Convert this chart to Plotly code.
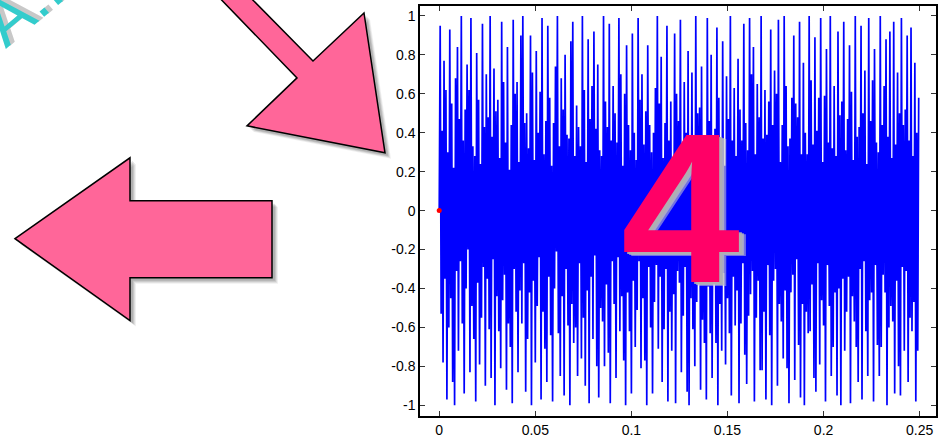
import plotly.graph_objects as go

# ---- data ----
sample_step = 0.0005         # s between samples
signal = [
    0.00, 0.95, -0.53, 0.41, -0.78, 0.77, -0.35, 0.62, -0.97, 0.30, -0.60, 0.93, -0.45, 0.55, -0.88, 0.22, -1.00, 0.68, -0.31, 0.84,
    -0.72, 0.47, -0.26, 1.00, -0.58, 0.36, -0.94, 0.52, -0.40, 0.75, -0.20, 0.62, -0.83, 0.99, -0.49, 0.33, -0.66, 0.28, -0.98, 0.81,
    -0.37, 0.57, -0.79, 0.24, -0.55, 0.96, -0.29, 0.43, -0.90, 0.70, -0.35, 0.48, -0.61, 1.00, -0.86, 0.38, -0.25, 0.73, -1.00, 0.51,
    -0.44, 0.57, -0.62, 0.27, -0.81, 0.97, -0.46, 0.66, -0.33, 0.35, -0.92, 0.84, -0.58, 0.21, -0.70, 0.44, -0.99, 0.98, -0.30, 0.60,
    -0.52, 0.66, -0.83, 0.25, -0.41, 0.90, -0.58, 1.00, -0.27, 0.45, -0.93, 0.50, -0.66, 0.32, -0.42, 0.90, -1.00, 0.71, -0.36, 0.26,
    -0.78, 0.82, -0.49, 0.40, -0.24, 0.61, -0.97, 0.99, -0.52, 0.29, -0.71, 0.46, -0.88, 0.95, -0.34, 0.58, -0.64, 0.23, -0.98, 0.45,
    -0.40, 0.74, -0.21, 1.00, -0.63, 0.33, -0.85, 0.68, -0.44, 0.52, -0.95, 0.80, -0.30, 0.39, -0.59, 0.37, -1.00, 0.87, -0.48, 0.97,
    -0.68, 0.28, -0.60, 0.54, -0.85, 0.43, -0.27, 0.33, -0.76, 1.00, -0.55, 0.62, -0.90, 0.25, -0.41, 0.88, -0.99, 0.47, -0.34, 0.64,
    -0.66, 0.92, -0.23, 0.42, -0.80, 0.75, -0.96, 0.31, -0.50, 0.28, -0.57, 1.00, -0.80, 0.56, -0.38, 0.43, -0.73, 0.96, -0.99, 0.36,
    -0.26, 0.64, -0.48, 0.50, -0.86, 0.35, -0.24, 0.99, -0.62, 0.70, -0.44, 0.23, -0.77, 0.60, -1.00, 0.85, -0.42, 0.44, -0.62, 0.31,
    -0.94, 0.91, -0.36, 0.40, -0.70, 0.26, -0.51, 0.99, -0.26, 0.57, -0.81, 0.70, -0.45, 0.34, -0.77, 0.51, -1.00, 0.85, -0.29, 0.44,
    -0.60, 0.30, -0.94, 0.40, -0.47, 0.63, -0.28, 1.00, -0.71, 0.55, -0.34, 0.79, -0.88, 0.27, -0.61, 0.45, -0.30, 0.95, -0.98, 0.36,
    -0.52, 0.56, -0.72, 0.22, -0.43, 0.91, -0.99, 0.60, -0.31, 0.46, -0.37, 0.98, -0.83, 0.33, -0.54, 0.66, -0.29, 0.40, -0.93, 0.82,
    -1.00, 0.38, -0.45, 0.71, -0.61, 0.24, -0.80, 1.00, -0.47, 0.50, -0.27, 0.53, -0.92, 0.74, -0.56, 0.34, -0.68, 0.27, -0.97, 0.99,
    -0.39, 0.46, -0.63, 0.80, -0.86, 0.35, -0.25, 0.42, -0.68, 0.94, -1.00, 0.58, -0.48, 0.32, -0.72, 0.87, -0.32, 0.23, -0.79, 0.69,
    -0.45, 0.47, -0.63, 1.00, -0.95, 0.36, -0.34, 0.63, -0.59, 0.28, -0.41, 0.78, -0.99, 0.52, -0.58, 0.36, -0.27, 0.96, -0.74, 0.45,
    -0.89, 0.31, -0.54, 0.99, -0.43, 0.70, -0.31, 0.84, -0.98, 0.29, -0.55, 0.65, -0.36, 0.48, -0.82, 1.00, -0.82, 0.37, -0.52, 0.62,
    -0.97, 0.39, -0.28, 0.56, -0.64, 0.93, -1.00, 0.44, -0.36, 0.72, -0.30, 0.60, -0.90, 0.98, -0.48, 0.25, -0.57, 0.44, -0.76, 1.00,
    -0.41, 0.64, -0.81, 0.33, -0.99, 0.37, -0.42, 0.58, -0.33, 0.90, -0.87, 0.55, -0.25, 0.48, -0.69, 0.97, -0.96, 0.29, -0.48, 0.76,
    -1.00, 0.40, -0.52, 0.29, -0.63, 1.00, -0.62, 0.67, -0.38, 0.34, -0.86, 0.89, -0.93, 0.41, -0.27, 0.58, -0.79, 0.99, -0.46, 0.25,
    -0.59, 0.59, -0.98, 0.83, -0.28, 0.35, -0.49, 1.00, -0.85, 0.32, -0.70, 0.64, -0.42, 0.28, -0.95, 0.92, -0.40, 0.49, -1.00, 0.56,
    -0.35, 0.97, -0.72, 0.31, -0.52, 0.47, -0.34, 0.85, -0.99, 0.61, -0.44, 0.26, -0.57, 1.00, -0.70, 0.38, -0.88, 0.43, -0.30, 0.95,
    -0.97, 0.50, -0.26, 0.72, -0.62, 0.24, -0.85, 0.99, -0.46, 0.46, -0.42, 0.67, -0.98, 0.83, -0.28, 0.35, -0.69, 0.30, -0.85, 1.00,
    -0.70, 0.44, -0.33, 0.64, -0.42, 0.88, -1.00, 0.38, -0.60, 0.92, -0.49, 0.27, -0.57, 0.97, -0.94, 0.34, -0.36, 0.71, -0.80, 0.50,
    -0.95, 0.99, -0.29, 0.44, -0.72, 0.52, -0.31, 0.90, -0.88, 0.36, -0.55, 0.94, -0.62, 0.28, -0.47, 0.76, -0.98, 0.40, -0.72, 0.58,
]
time = [i * sample_step for i in range(len(signal))]
start_point_x = [0.0]
start_point_y = [0.0]
x_tick_vals = [0, 0.05, 0.1, 0.15, 0.2, 0.25]
x_tick_text = ["0", "0.05", "0.1", "0.15", "0.2", "0.25"]
y_tick_vals = [-1, -0.8, -0.6, -0.4, -0.2, 0, 0.2, 0.4, 0.6, 0.8, 1]
y_tick_text = ["-1", "-0.8", "-0.6", "-0.4", "-0.2", "0", "0.2", "0.4", "0.6", "0.8", "1"]
big_label = "4"
watermark = "A..."

# ---- layout geometry (pixels) ----
W, H = 940, 436
L, R, T, B = 420, 936, 6, 416.5


def px(x):
    return (x - L) / (R - L)


def py(y):
    return (B - y) / (B - T)


def path(points, dx=0, dy=0):
    s = "M " + " L ".join(f"{px(x + dx):.5f},{py(y + dy):.5f}" for x, y in points)
    return s + " Z"


arrow_diag = [(210, -12), (297, 78), (247, 126), (385, 153), (364, 13), (313, 61), (241, -12)]
arrow_left = [(15, 239), (130, 158), (130, 201), (272, 201), (272, 278), (130, 278), (130, 321)]

fig = go.Figure()
fig.add_trace(go.Scatter(x=time, y=signal, mode="lines",
                         line=dict(color="#0000FF", width=1.7, simplify=False), hoverinfo="skip"))
fig.add_trace(go.Scatter(x=start_point_x, y=start_point_y, mode="markers",
                         marker=dict(color="#FF0000", size=5)))

shapes = []
for arrow in (arrow_diag, arrow_left):
    for o, a in [(6, 0.06), (5, 0.08), (4, 0.10), (3, 0.10)]:
        shapes.append(dict(type="path", xref="paper", yref="paper", path=path(arrow, o, o),
                           fillcolor=f"rgba(0,0,0,{a})", line=dict(width=0), layer="above"))
    shapes.append(dict(type="path", xref="paper", yref="paper", path=path(arrow),
                       fillcolor="#FF6699", line=dict(color="#000000", width=1.5), layer="above"))

# watermark (shadow + text), mostly cut off by the top edge: drawn as shape labels
for (cx, cy), col in [((29, -8), "#C8C8C8"), ((25, -5), "#33CCCC")]:
    shapes.append(dict(type="rect", xref="paper", yref="paper",
                       x0=px(cx - 4), x1=px(cx + 4), y0=py(cy + 4), y1=py(cy - 4),
                       line=dict(width=0), fillcolor="rgba(0,0,0,0)", layer="above",
                       label=dict(text=watermark, textangle=-40, textposition="middle center",
                                  font=dict(family="Liberation Sans", size=66, color=col))))

annotations = []
# big "4" with soft light-grey glow
for o, c in [(7, "rgba(205,205,205,0.55)"), (5, "rgba(190,190,190,0.75)"), (3, "rgba(175,175,175,0.9)")]:
    annotations.append(dict(x=px(680 + o), y=py(208 + o * 0.6), xref="paper", yref="paper",
                            text=f"<b>{big_label}</b>", showarrow=False,
                            font=dict(family="Liberation Sans", size=214, color=c)))
annotations.append(dict(x=px(680), y=py(208), xref="paper", yref="paper",
                        text=f"<b>{big_label}</b>", showarrow=False,
                        font=dict(family="Liberation Sans", size=214, color="#FF0066")))

axis_common = dict(showgrid=False, zeroline=False, showline=True, linecolor="#000000",
                   linewidth=1.5, mirror="ticks", ticks="inside", ticklen=5,
                   tickcolor="#333333", tickwidth=1.2, automargin=False,
                   tickfont=dict(family="Liberation Sans, Arial", size=14, color="#000000"))

fig.update_layout(
    width=W, height=H, margin=dict(l=L, r=W - R, t=T, b=H - B, autoexpand=False),
    paper_bgcolor="white", plot_bgcolor="white", showlegend=False,
    xaxis=dict(range=[-0.01, 0.2585], tickvals=x_tick_vals, ticktext=x_tick_text, **axis_common),
    yaxis=dict(range=[-1.055, 1.051], tickvals=y_tick_vals, ticktext=y_tick_text, **axis_common),
    shapes=shapes, annotations=annotations,
)

fig.write_html("out.html", config={"displayModeBar": False},
               post_script="document.body.style.margin='0';document.body.style.overflow='hidden';")
